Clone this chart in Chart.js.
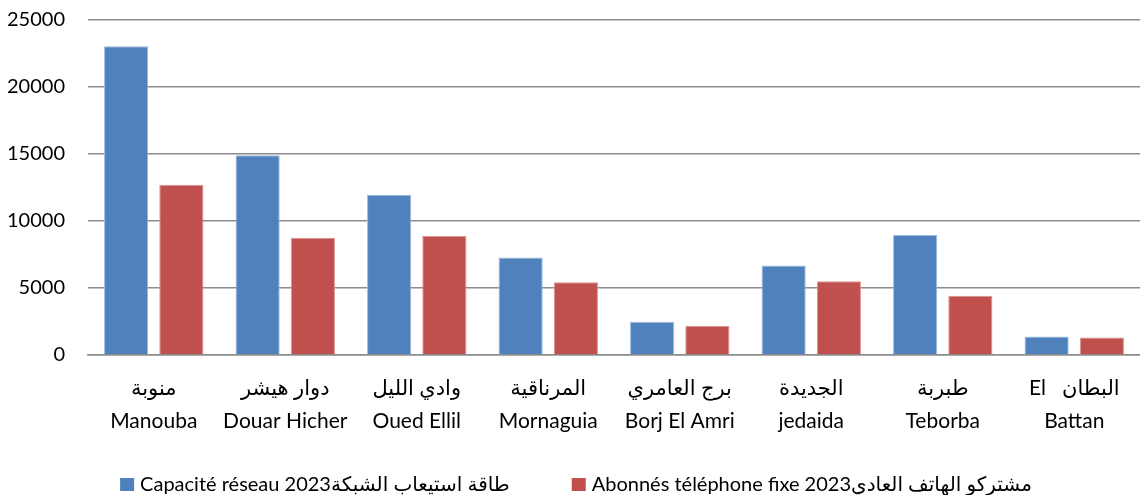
<!DOCTYPE html>
<html>
<head>
<meta charset="utf-8">
<script src="https://cdn.jsdelivr.net/npm/chart.js@4/dist/chart.umd.min.js"></script>
<style>
  html, body { margin: 0; padding: 0; background: #fff; }
  #wrap { width: 1140px; height: 495px; }
</style>
</head>
<body>
<div id="wrap"><canvas id="chart" width="1140" height="495"></canvas></div>
<script>
// delegations of Manouba, arabic name on top, latin below
const categories = [
  ['منوبة', 'Manouba'],
  ['دوار هيشر', 'Douar Hicher'],
  ['وادي الليل', 'Oued Ellil'],
  ['المرناقية', 'Mornaguia'],
  ['برج العامري', 'Borj El Amri'],
  ['الجديدة', 'jedaida'],
  ['طبربة', 'Teborba'],
  ['El   البطان', 'Battan']
];

const capacity = [23050, 14900, 11950, 7280, 2480, 6680, 8950, 1380];
const subscribers = [12700, 8750, 8880, 5430, 2180, 5500, 4430, 1300];

const capacityLabel = 'Capacité réseau 2023طاقة استيعاب الشبكة';
const subscribersLabel = 'Abonnés téléphone fixe 2023مشتركو الهاتف العادي';

const yTicks = [0, 5000, 10000, 15000, 20000, 25000];

const blue = '#4f81bd';
const red = '#c0504d';
const gridGrey = '#8c8c8c';
const fontFamily = 'Lato, DejaVu Sans, sans-serif';

// legend drawn by hand so its row can sit right at the bottom edge
const bottomLegend = {
  id: 'bottomLegend',
  afterDraw(chart) {
    const ctx = chart.ctx;
    const box = 14, boxGap = 6, itemGap = 62, baseline = 491;
    ctx.save();
    ctx.font = '20px ' + fontFamily;
    ctx.textBaseline = 'alphabetic';
    const items = chart.data.datasets.map(ds => ({
      text: ds.label,
      color: ds.backgroundColor,
      width: box + boxGap + ctx.measureText(ds.label).width
    }));
    const total = items.reduce((s, it) => s + it.width, 0) + itemGap * (items.length - 1);
    let x = (chart.width - total) / 2 + 6;
    items.forEach(it => {
      ctx.fillStyle = it.color;
      ctx.fillRect(x, baseline - 13, box, box - 1);
      ctx.fillStyle = '#000';
      ctx.fillText(it.text, x + box + boxGap, baseline);
      x += it.width + itemGap;
    });
    ctx.restore();
  }
};

new Chart(document.getElementById('chart').getContext('2d'), {
  type: 'bar',
  data: {
    labels: categories,
    datasets: [
      { label: capacityLabel, data: capacity, backgroundColor: blue, borderColor: '#9dbbe0', borderWidth: 1, borderSkipped: 'bottom' },
      { label: subscribersLabel, data: subscribers, backgroundColor: red, borderColor: '#dc9391', borderWidth: 1, borderSkipped: 'bottom' }
    ]
  },
  plugins: [bottomLegend],
  options: {
    responsive: false,
    animation: false,
    layout: { padding: { top: 20, right: 0, bottom: 0, left: 0 } },
    datasets: {
      bar: { categoryPercentage: 0.84, barPercentage: 0.8 }
    },
    scales: {
      x: {
        grid: { display: false, drawTicks: false },
        border: { display: true, color: gridGrey, width: 1.5 },
        ticks: {
          color: '#000',
          padding: 17,
          maxRotation: 0,
          autoSkip: false,
          font: { family: fontFamily, size: 21, lineHeight: 1.55 }
        },
        afterFit(scale) {
          scale.height = 140;
          scale.paddingTop = 0;
          scale.paddingBottom = 0;
        }
      },
      y: {
        min: 0,
        max: 25000,
        afterBuildTicks(scale) { scale.ticks = yTicks.map(v => ({ value: v })); },
        grid: { color: gridGrey, lineWidth: 1.5, drawTicks: false },
        border: { display: false },
        ticks: {
          color: '#000',
          padding: 23,
          callback: v => String(v),
          font: { family: fontFamily, size: 20 }
        },
        afterFit(scale) {
          scale.width = 88;
          scale.paddingTop = 0;
          scale.paddingBottom = 0;
        }
      }
    },
    plugins: {
      tooltip: { enabled: false },
      legend: { display: false }
    }
  }
});
</script>
</body>
</html>
